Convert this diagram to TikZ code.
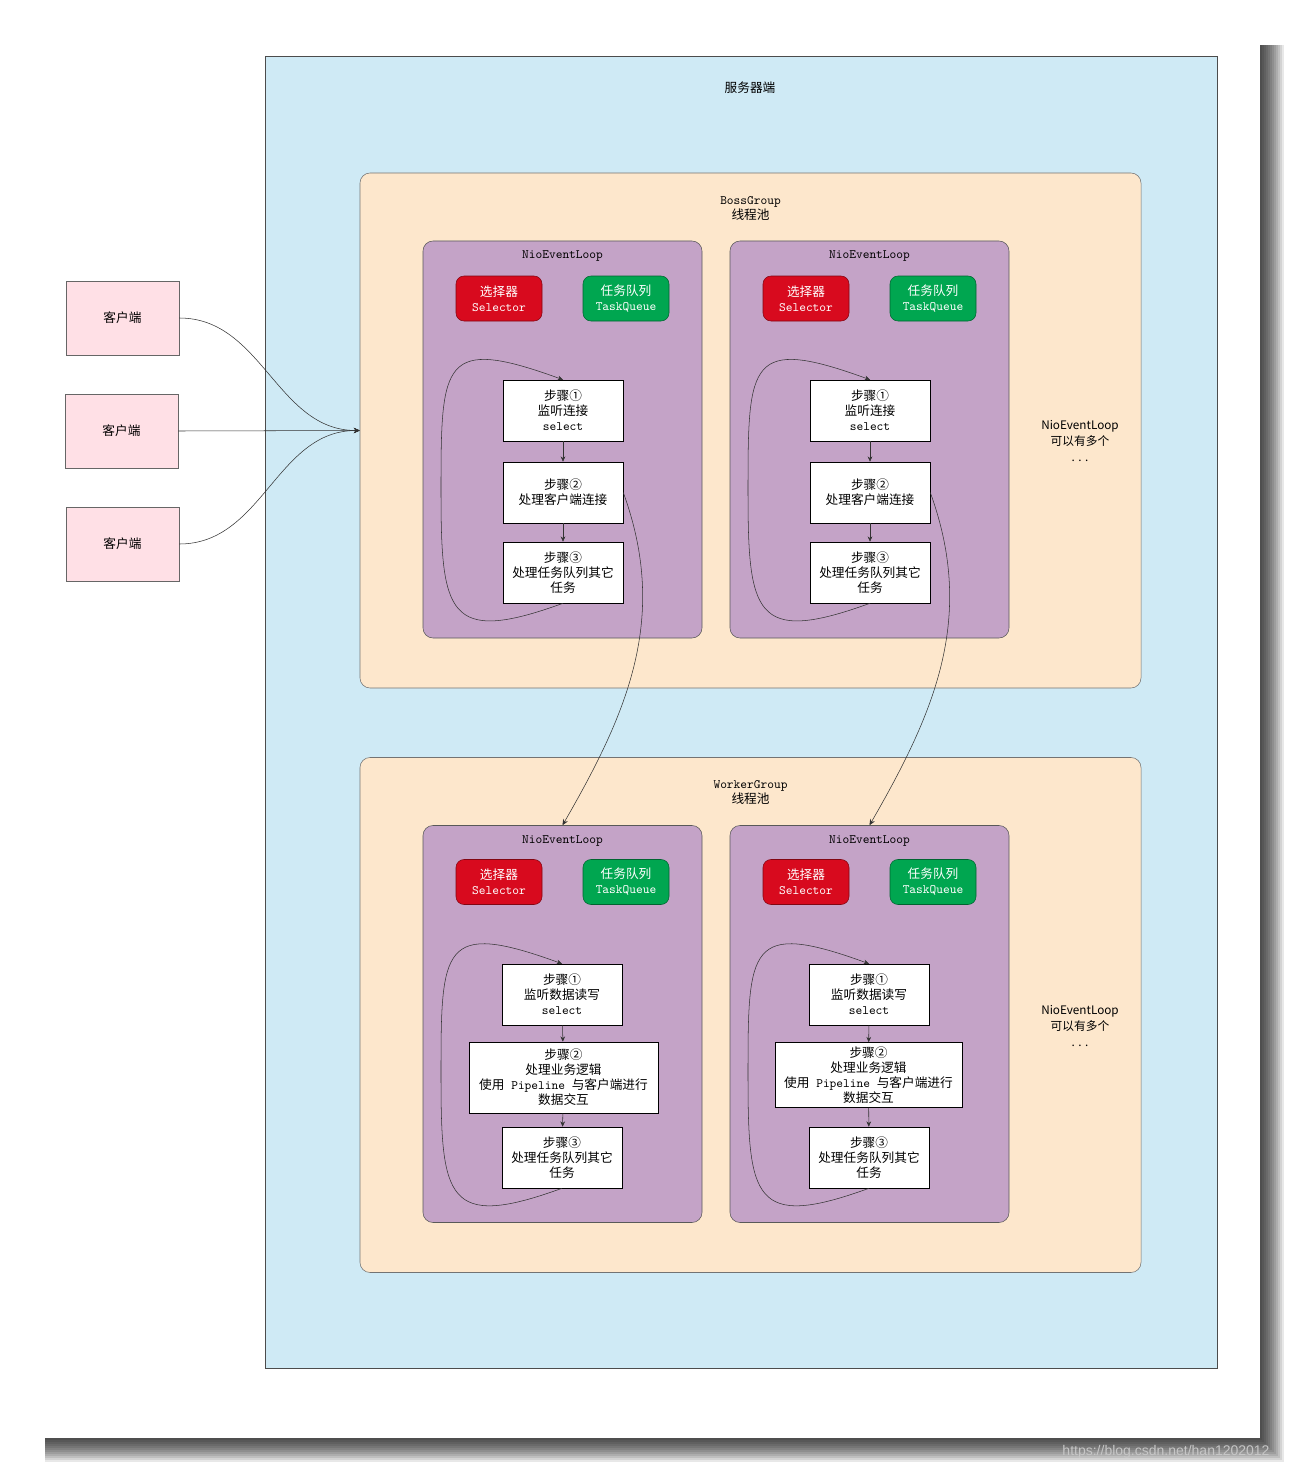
\documentclass[tikz,border=0pt]{standalone}
\usepackage{fontspec}
\setmainfont{Liberation Sans}
\newfontfamily\cjk[Scale=0.99]{Noto Sans CJK SC}
\newfontfamily\cjksans{Noto Sans CJK SC}
\usepackage{xcolor}
\definecolor{nioServer}{HTML}{CFEAF5}
\definecolor{nioGroup}{HTML}{FDE7CC}
\definecolor{nioLoop}{HTML}{C4A3C7}
\definecolor{nioSelector}{HTML}{D80A1E}
\definecolor{nioQueue}{HTML}{00A650}
\definecolor{nioClient}{HTML}{FFE0E6}
\definecolor{nioLine}{HTML}{333333}
\usetikzlibrary{positioning,arrows.meta}

\tikzset{
  monotext/.style={font=\ttfamily\fontsize{9.6}{11.3}\selectfont, align=center},
  groupbox/.style={draw=black!55, fill=nioGroup, rounded corners=7.5pt, minimum width=585.75pt, minimum height=386.25pt},
  loopbox/.style={draw=black!65, fill=nioLoop, rounded corners=7.5pt, minimum width=209.25pt, minimum height=297.75pt},
  selectorbox/.style={monotext, text=white, draw=nioSelector!60!black, fill=nioSelector, rounded corners=6pt, minimum width=64.5pt, minimum height=33.75pt, inner sep=1pt},
  queuebox/.style={monotext, text=white, draw=nioQueue!60!black, fill=nioQueue, rounded corners=6pt, minimum width=64.5pt, minimum height=33.75pt, inner sep=1pt},
  stepbox/.style={monotext, draw=black, fill=white, minimum width=90pt, minimum height=45.75pt, inner sep=1pt},
  clientbox/.style={draw=black!60, fill=nioClient, minimum width=84.75pt, minimum height=55.5pt, font=\cjk\fontsize{9.6}{11}\selectfont},
  steparrow/.style={draw=nioLine, -{Stealth[length=4pt,width=3.5pt]}},
  flowline/.style={draw=nioLine, -{Stealth[length=4.5pt,width=4pt]}}
}

\begin{document}
\begin{tikzpicture}[x=0.75pt, y=-0.75pt]
  \useasboundingbox (0,0) rectangle (1295,1473);
  \fill[white] (0,0) rectangle (1295,1473);
  \foreach \s in {2,4,...,26}
    \fill[black, opacity=0.09] (45,45) rectangle (1258+\s,1436+\s);
  \fill[white] (35,35) rectangle (1260,1438);

  \node[draw=black!70, fill=nioServer, minimum width=714pt, minimum height=984pt] (server) at (741,712) {};
  \node[font=\cjk\fontsize{9.6}{11}\selectfont] (serverT) at (750,88) {服务器端};

  \node[groupbox] (boss) at (750.5,430.5) {};
  \node[monotext, below=14pt of boss.north] (bossT) {BossGroup\\{\cjk 线程池}};
  \node[groupbox] (worker) at (750.5,1015) {};
  \node[monotext, below=14pt of worker.north] (workerT) {WorkerGroup\\{\cjk 线程池}};

  \node[loopbox] (bl) at (562.5,439.5) {};
  \node[monotext, below=4pt of bl.north] (blT) {NioEventLoop};
  \node[selectorbox] (blSel) at (499,298.5) {{\cjk 选择器}\\Selector};
  \node[queuebox] (blQue) at (626,298.5) {{\cjk 任务队列}\\TaskQueue};
  \node[stepbox] (bl1) at (563,410.5) {{\cjk 步骤①}\\{\cjk 监听连接}\\select};
  \node[stepbox] (bl2) at (563,492.5) {{\cjk 步骤②}\\{\cjk 处理客户端连接}};
  \node[stepbox] (bl3) at (563,572.5) {{\cjk 步骤③}\\{\cjk 处理任务队列其它}\\{\cjk 任务}};
  \coordinate (blC) at (441,490);

  \node[loopbox] (br) at (869.5,439.5) {};
  \node[monotext, below=4pt of br.north] (brT) {NioEventLoop};
  \node[selectorbox] (brSel) at (806,298.5) {{\cjk 选择器}\\Selector};
  \node[queuebox] (brQue) at (933,298.5) {{\cjk 任务队列}\\TaskQueue};
  \node[stepbox] (br1) at (870,410.5) {{\cjk 步骤①}\\{\cjk 监听连接}\\select};
  \node[stepbox] (br2) at (870,492.5) {{\cjk 步骤②}\\{\cjk 处理客户端连接}};
  \node[stepbox] (br3) at (870,572.5) {{\cjk 步骤③}\\{\cjk 处理任务队列其它}\\{\cjk 任务}};
  \coordinate (brC) at (748,490);

  \node[loopbox] (wl) at (562.5,1024) {};
  \node[monotext, below=4pt of wl.north] (wlT) {NioEventLoop};
  \node[selectorbox] (wlSel) at (499,882) {{\cjk 选择器}\\Selector};
  \node[queuebox] (wlQue) at (626,882) {{\cjk 任务队列}\\TaskQueue};
  \node[stepbox] (wl1) at (562,994.5) {{\cjk 步骤①}\\{\cjk 监听数据读写}\\select};
  \node[stepbox, minimum width=141.75pt, minimum height=53.25pt] (wl2) at (563.5,1077.5) {{\cjk 步骤②}\\{\cjk 处理业务逻辑}\\{\cjk 使用} Pipeline {\cjk 与客户端进行}\\{\cjk 数据交互}};
  \node[stepbox] (wl3) at (562,1157.5) {{\cjk 步骤③}\\{\cjk 处理任务队列其它}\\{\cjk 任务}};
  \coordinate (wlC) at (441,1075);

  \node[loopbox] (wr) at (869.5,1024) {};
  \node[monotext, below=4pt of wr.north] (wrT) {NioEventLoop};
  \node[selectorbox] (wrSel) at (806,882) {{\cjk 选择器}\\Selector};
  \node[queuebox] (wrQue) at (933,882) {{\cjk 任务队列}\\TaskQueue};
  \node[stepbox] (wr1) at (869,994.5) {{\cjk 步骤①}\\{\cjk 监听数据读写}\\select};
  \node[stepbox, minimum width=140.25pt, minimum height=48.75pt] (wr2) at (868.5,1075) {{\cjk 步骤②}\\{\cjk 处理业务逻辑}\\{\cjk 使用} Pipeline {\cjk 与客户端进行}\\{\cjk 数据交互}};
  \node[stepbox] (wr3) at (869,1157.5) {{\cjk 步骤③}\\{\cjk 处理任务队列其它}\\{\cjk 任务}};
  \coordinate (wrC) at (748,1075);

  \node[align=center, font=\cjksans\fontsize{8.8}{12}\selectfont] (bossMore) at (1080,441) {NioEventLoop\\可以有多个\\. . .};
  \node[align=center, font=\cjksans\fontsize{8.8}{12}\selectfont] (workerMore) at (1080,1026) {NioEventLoop\\可以有多个\\. . .};

  \node[clientbox] (c1) at (122.5,318) {客户端};
  \node[clientbox] (c2) at (121.5,431) {客户端};
  \node[clientbox] (c3) at (122.5,544) {客户端};

  \draw[flowline] (c1.east) to[out=0, in=180] (boss.west);
  \draw[flowline] (c2.east) -- (boss.west);
  \draw[flowline] (c3.east) to[out=0, in=180] (boss.west);

  \draw[steparrow] (bl1) -- (bl2);
  \draw[steparrow] (bl2) -- (bl3);
  \draw[steparrow] (bl3.south) to[out=-160, in=-90, looseness=1.9] (blC) to[out=90, in=160, looseness=2] (bl1.north);
  \draw[steparrow] (br1) -- (br2);
  \draw[steparrow] (br2) -- (br3);
  \draw[steparrow] (br3.south) to[out=-160, in=-90, looseness=1.9] (brC) to[out=90, in=160, looseness=2] (br1.north);
  \draw[steparrow] (wl1) -- (wl2);
  \draw[steparrow] (wl2) -- (wl3);
  \draw[steparrow] (wl3.south) to[out=-160, in=-90, looseness=1.9] (wlC) to[out=90, in=160, looseness=2] (wl1.north);
  \draw[steparrow] (wr1) -- (wr2);
  \draw[steparrow] (wr2) -- (wr3);
  \draw[steparrow] (wr3.south) to[out=-160, in=-90, looseness=1.9] (wrC) to[out=90, in=160, looseness=2] (wr1.north);

  \draw[flowline] (bl2.east) to[out=-70, in=60] (wl.north);
  \draw[flowline] (br2.east) to[out=-70, in=60] (wr.north);

  \node[text=gray!45, font=\fontsize{10.5}{12}\selectfont] (mark) at (1166,1452) {https://blog.csdn.net/han1202012};
\end{tikzpicture}
\end{document}
